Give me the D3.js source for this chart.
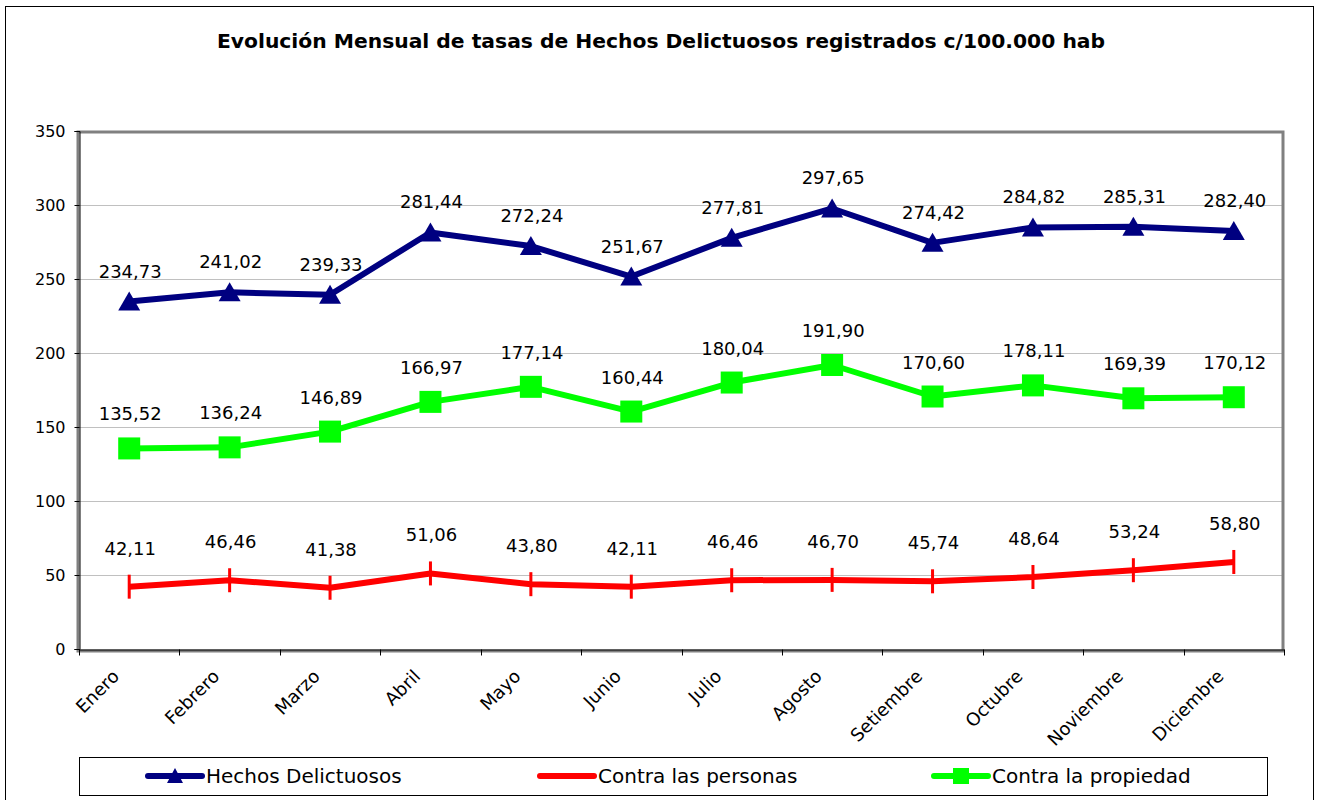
<!DOCTYPE html>
<html>
<head>
<meta charset="utf-8">
<script src="https://cdn.jsdelivr.net/npm/d3@7"></script>
<style>
  body { margin: 0; background: #fff; }
  text { font-family: 'DejaVu Sans', Verdana, sans-serif; fill: #000; }
</style>
</head>
<body>
<script>
var months = ['Enero', 'Febrero', 'Marzo', 'Abril', 'Mayo', 'Junio', 'Julio',
  'Agosto', 'Setiembre', 'Octubre', 'Noviembre', 'Diciembre'];
var hechos = [234.73, 241.02, 239.33, 281.44, 272.24, 251.67, 277.81, 297.65, 274.42, 284.82, 285.31, 282.40];
var personas = [42.11, 46.46, 41.38, 51.06, 43.80, 42.11, 46.46, 46.70, 45.74, 48.64, 53.24, 58.80];
var propiedad = [135.52, 136.24, 146.89, 166.97, 177.14, 160.44, 180.04, 191.90, 170.60, 178.11, 169.39, 170.12];
var yTicks = [0, 50, 100, 150, 200, 250, 300, 350];
var seriesNames = ['Hechos Delictuosos', 'Contra las personas', 'Contra la propiedad'];

var w = 1317, h = 800;
var plotLeft = 79, plotRight = 1284, plotTop = 131, plotBottom = 649;

var svg = d3.select('body').append('svg')
  .attr('width', w)
  .attr('height', h);

// outer chart border
svg.append('rect')
  .attr('x', 5.5).attr('y', 6.5)
  .attr('width', 1308).attr('height', 800)
  .attr('fill', 'none').attr('stroke', '#000');

svg.append('text')
  .attr('x', 661).attr('y', 48)
  .attr('text-anchor', 'middle')
  .style('font-size', '20.3px')
  .style('font-weight', 'bold')
  .text('Evolución Mensual de tasas de Hechos Delictuosos registrados c/100.000 hab');

var x = d3.scaleBand().domain(months).range([plotLeft, plotRight]).padding(0);
var y = d3.scaleLinear().domain([0, 350]).range([plotBottom, plotTop]);
var cx = function(d, i) { return x(months[i]) + x.bandwidth() / 2; };
var fmt = function(v) { return v.toFixed(2).replace('.', ','); };

// gridlines
svg.append('g').selectAll('line')
    .data(yTicks.slice(1, -1))
  .enter().append('line')
    .attr('x1', plotLeft).attr('x2', plotRight)
    .attr('y1', function(d) { return y(d) + 0.5; })
    .attr('y2', function(d) { return y(d) + 0.5; })
    .attr('stroke', '#c0c0c0');

// grey plot frame (with the shadow-like edge under the bottom axis)
svg.append('path')
  .attr('d', 'M' + (plotLeft - 1) + ',' + (plotBottom + 2) + 'V' + (plotTop + 1) +
    'H' + (plotRight - 1) + 'V' + (plotBottom + 2) + 'Z')
  .attr('fill', 'none')
  .attr('stroke', '#808080')
  .attr('stroke-width', 3);

// axes
var yAxis = svg.append('g')
  .attr('transform', 'translate(' + (plotLeft + 0.5) + ',0)')
  .call(d3.axisLeft(y).tickValues(yTicks).tickSize(5).tickPadding(9));
var xAxis = svg.append('g')
  .attr('transform', 'translate(0,' + (plotBottom + 0.5) + ')')
  .call(d3.axisBottom(x).tickSize(0).tickPadding(0));

yAxis.select('.domain').attr('stroke', '#000');
yAxis.selectAll('text').style('font-size', '16px').attr('fill', '#000');
xAxis.select('.domain').attr('stroke', '#000');
xAxis.selectAll('.tick line').remove();

// category boundary ticks
xAxis.append('g').selectAll('line')
    .data(months.concat(['end']))
  .enter().append('line')
    .attr('x1', function(d, i) { return Math.round(plotLeft + i * x.bandwidth()) + 0.5; })
    .attr('x2', function(d, i) { return Math.round(plotLeft + i * x.bandwidth()) + 0.5; })
    .attr('y1', 0).attr('y2', 6)
    .attr('stroke', '#000');

xAxis.selectAll('.tick text')
  .style('font-size', '18px')
  .attr('fill', '#000')
  .attr('text-anchor', 'end')
  .attr('dy', 0)
  .attr('transform', 'translate(-9,28) rotate(-45)');

var line = d3.line()
  .x(cx)
  .y(function(d) { return y(d); });

var layers = [
  { data: hechos, color: '#000080', marker: 'triangle', offset: 24 },
  { data: personas, color: '#ff0000', marker: 'plus', offset: 32 },
  { data: propiedad, color: '#00ff00', marker: 'square', offset: 28 }
];

function drawMarker(g, type, color) {
  if (type === 'triangle') {
    g.append('path').attr('d', 'M0,-10L11,9L-11,9Z').attr('fill', color);
  } else if (type === 'square') {
    g.append('rect').attr('x', -11).attr('y', -11).attr('width', 22).attr('height', 22).attr('fill', color);
  } else {
    g.append('rect').attr('x', -1.5).attr('y', -12).attr('width', 3).attr('height', 24).attr('fill', color);
  }
}

layers.forEach(function(s) {
  svg.append('path')
    .datum(s.data)
    .attr('d', line)
    .attr('fill', 'none')
    .attr('stroke', s.color)
    .attr('stroke-width', 6)
    .attr('stroke-linejoin', 'round');

  svg.append('g').selectAll('g')
      .data(s.data)
    .enter().append('g')
      .attr('transform', function(d, i) { return 'translate(' + cx(d, i) + ',' + y(d) + ')'; })
      .each(function() { drawMarker(d3.select(this), s.marker, s.color); });

  svg.append('g').selectAll('text')
      .data(s.data)
    .enter().append('text')
      .attr('x', function(d, i) { return cx(d, i) + 1; })
      .attr('y', function(d) { return y(d) - s.offset; })
      .attr('text-anchor', 'middle')
      .style('font-size', '18px')
      .text(fmt);
});

// legend
var legend = svg.append('g');
legend.append('rect')
  .attr('x', 79.5).attr('y', 757.5)
  .attr('width', 1188).attr('height', 38)
  .attr('fill', '#fff').attr('stroke', '#000');

var legendX = [145, 537, 931];
layers.forEach(function(s, i) {
  var g = legend.append('g').attr('transform', 'translate(' + legendX[i] + ',776)');
  g.append('line')
    .attr('x1', 3).attr('x2', 57)
    .attr('stroke', s.color).attr('stroke-width', 6)
    .attr('stroke-linecap', 'round');
  var m = g.append('g').attr('transform', 'translate(30,0)');
  if (s.marker === 'triangle') {
    m.append('path').attr('d', 'M0,-8L8,7L-8,7Z').attr('fill', s.color);
  } else if (s.marker === 'square') {
    m.append('rect').attr('x', -8).attr('y', -8).attr('width', 16).attr('height', 16).attr('fill', s.color);
  }
  g.append('text')
    .attr('x', 61).attr('y', 7)
    .style('font-size', '20px')
    .text(seriesNames[i]);
});
</script>
</body>
</html>
